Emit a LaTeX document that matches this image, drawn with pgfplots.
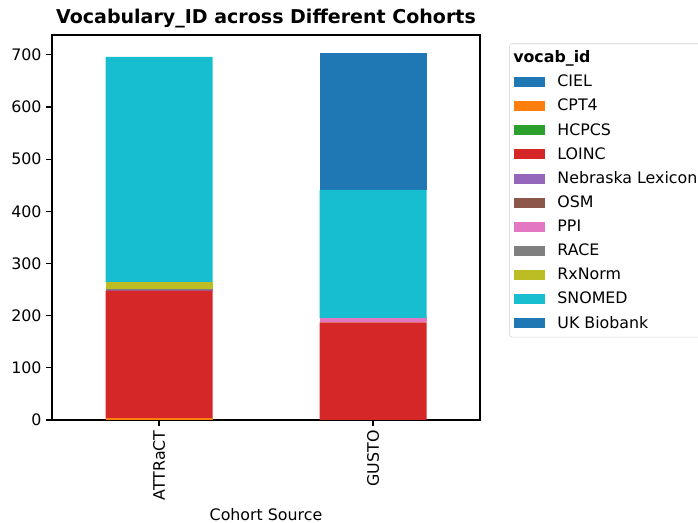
\documentclass[border=0pt]{standalone}
\usepackage{fontspec}
\setmainfont{DejaVu Sans}
\usepackage{pgfplots}
\pgfplotsset{compat=1.18}
\definecolor{c0}{HTML}{1F77B4}
\definecolor{c1}{HTML}{FF7F0E}
\definecolor{c2}{HTML}{2CA02C}
\definecolor{c3}{HTML}{D62728}
\definecolor{c4}{HTML}{9467BD}
\definecolor{c5}{HTML}{8C564B}
\definecolor{c6}{HTML}{E377C2}
\definecolor{c7}{HTML}{7F7F7F}
\definecolor{c8}{HTML}{BCBD22}
\definecolor{c9}{HTML}{17BECF}
\pgfplotsset{bl/.style={fill=#1, draw=none,
    legend image code/.code={\fill[#1, sharp corners] (0pt,-3.6pt) rectangle (23pt,3.6pt); \path (29.6pt,0pt);}}}
\begin{document}
\begin{tikzpicture}
\begin{axis}[
  at={(37.44pt,74.16pt)}, anchor=south west,
  scale only axis, width=308.16pt, height=277.2pt,
  ybar stacked, bar width=0.5,
  xmin=-0.5, xmax=1.5, ymin=0, ymax=738,
  xtick={0,1}, xticklabels={ATTRaCT,GUSTO},
  x tick label style={rotate=90, anchor=east},
  ytick={0,100,...,700},
  tick align=outside, tick pos=left,
  major tick length=4pt,
  every tick/.style={black, line width=0.9pt},
  axis line style={line width=0.9pt},
  /pgf/number format/assume math mode=true,
  tick label style={font=\fontsize{11.4}{13}\selectfont},
  label style={font=\fontsize{11.4}{13}\selectfont},
  xlabel style={yshift=1pt},
  title={\bfseries Vocabulary\_ID across Different Cohorts},
  title style={font=\fontsize{13.7}{16}\selectfont, yshift=-4.5pt},
  xlabel={Cohort Source},
  legend style={at={(1.068,0.978)}, anchor=north west, draw=black!18, rounded corners=2pt,
    font=\fontsize{11.4}{13}\selectfont, row sep=3.4pt, inner xsep=3pt, inner ysep=3pt},
  legend cell align=left,
]
\addlegendimage{empty legend}\addlegendentry{\hspace*{-31.8pt}\bfseries vocab\_id}
\addplot[bl=c0] coordinates {(0,0) (1,0)};
\addlegendentry{CIEL}
\addplot[bl=c1] coordinates {(0,3) (1,0)};
\addlegendentry{CPT4}
\addplot[bl=c2] coordinates {(0,0) (1,0)};
\addlegendentry{HCPCS}
\addplot[bl=c3] coordinates {(0,245) (1,187)};
\addlegendentry{LOINC}
\addplot[bl=c4] coordinates {(0,2) (1,0)};
\addlegendentry{Nebraska Lexicon}
\addplot[bl=c5] coordinates {(0,0) (1,0)};
\addlegendentry{OSM}
\addplot[bl=c6] coordinates {(0,0) (1,8)};
\addlegendentry{PPI}
\addplot[bl=c7] coordinates {(0,2) (1,0)};
\addlegendentry{RACE}
\addplot[bl=c8] coordinates {(0,13) (1,0)};
\addlegendentry{RxNorm}
\addplot[bl=c9] coordinates {(0,431) (1,246)};
\addlegendentry{SNOMED}
\addplot[bl=c0] coordinates {(0,0) (1,262)};
\addlegendentry{UK Biobank}
\end{axis}
\pgfresetboundingbox
\useasboundingbox (0,0) rectangle (502.56pt,376.56pt);
\end{tikzpicture}
\end{document}
